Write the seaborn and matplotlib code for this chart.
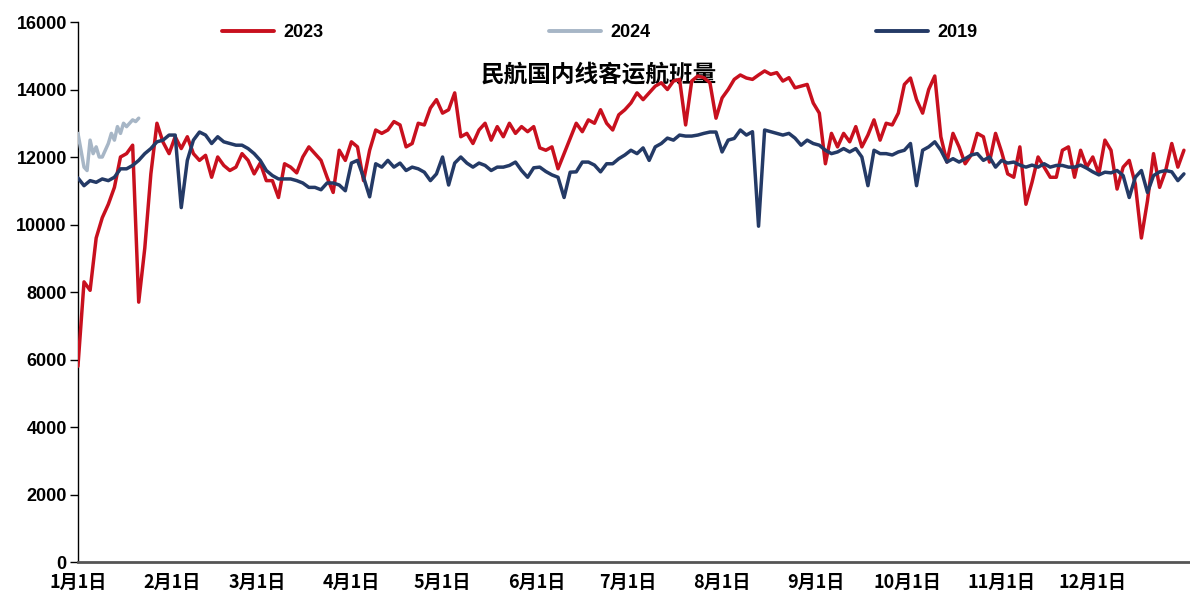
import numpy as np
import pandas as pd
import matplotlib
matplotlib.use('Agg')
import matplotlib.pyplot as plt
import seaborn as sns
from matplotlib.lines import Line2D

# values, one point every 2 days starting Jan 1
days = np.arange(0, 365, 2)

flights_2023 = [
    5800, 8300, 8050, 9600, 10200, 10600, 11100, 12000, 12100, 12350,
    7700, 9300, 11500, 13000, 12440, 12100, 12600, 12250, 12600, 12100,
    11900, 12050, 11400, 12000, 11750, 11600, 11700, 12100, 11900, 11500,
    11820, 11300, 11300, 10800, 11800, 11700, 11530, 12000, 12300, 12100,
    11900, 11400, 10950, 12200, 11900, 12450, 12300, 11300, 12200, 12800,
    12700, 12800, 13050, 12950, 12300, 12400, 13000, 12950, 13450, 13700,
    13300, 13400, 13900, 12600, 12700, 12400, 12800, 13000, 12500, 12900,
    12600, 13000, 12700, 12900, 12750, 12900, 12270, 12200, 12300, 11650,
    12100, 12550, 13000, 12750, 13100, 13000, 13400, 13000, 12800, 13250,
    13400, 13600, 13900, 13700, 13900, 14100, 14200, 14000, 14250, 14300,
    12950, 14250, 14400, 14350, 14200, 13150, 13750, 14000, 14300, 14430,
    14340, 14300, 14430, 14550, 14450, 14500, 14250, 14350, 14050, 14100,
    14150, 13600, 13300, 11800, 12700, 12300, 12700, 12450, 12900, 12300,
    12650, 13100, 12500, 13000, 12950, 13300, 14150, 14340, 13700, 13300,
    14000, 14400, 12600, 11850, 12700, 12300, 11800, 12060, 12700, 12600,
    11850, 12700, 12150, 11500, 11400, 12300, 10600, 11250, 12000, 11700,
    11400, 11400, 12200, 12300, 11400, 12200, 11700, 12000, 11500, 12500,
    12200, 11050, 11700, 11900, 11200, 9600, 10700, 12100, 11100, 11600,
    12400, 11700, 12200,
]

flights_2019 = [
    11380, 11150, 11300, 11250, 11350, 11300, 11400, 11650, 11650, 11750,
    11900, 12100, 12250, 12450, 12500, 12650, 12650, 10500, 11900, 12500,
    12740, 12650, 12400, 12600, 12450, 12400, 12350, 12350, 12250, 12100,
    11900, 11600, 11450, 11350, 11350, 11350, 11300, 11230, 11100, 11100,
    11030, 11230, 11230, 11170, 11000, 11820, 11900, 11400, 10820, 11800,
    11700, 11900, 11700, 11820, 11600, 11700, 11650, 11550, 11300, 11500,
    12000, 11170, 11820, 12000, 11820, 11700, 11820, 11750, 11600, 11700,
    11700, 11750, 11850, 11600, 11400, 11680, 11700, 11570, 11470, 11400,
    10800, 11550, 11560, 11850, 11850, 11760, 11560, 11800, 11800, 11950,
    12060, 12200, 12100, 12270, 11900, 12300, 12400, 12560, 12500, 12650,
    12620, 12620, 12650, 12700, 12740, 12740, 12150, 12500, 12550, 12800,
    12650, 12750, 9950, 12800, 12750, 12700, 12650, 12700, 12560, 12350,
    12500, 12400, 12350, 12200, 12100, 12150, 12250, 12150, 12250, 12000,
    11150, 12200, 12100, 12100, 12060, 12150, 12200, 12400, 11150, 12200,
    12300, 12450, 12200, 11850, 11950, 11850, 11950, 12060, 12100, 11900,
    12000, 11700, 11900, 11820, 11850, 11760, 11700, 11760, 11700, 11800,
    11700, 11750, 11750, 11700, 11700, 11760, 11670, 11560, 11470, 11550,
    11530, 11600, 11450, 10800, 11400, 11600, 10950, 11450, 11560, 11600,
    11560, 11300, 11500,
]

# 2024: daily values for the first three weeks
days_2024 = np.arange(0, 21)
flights_2024 = [12700, 12200, 11700, 11600, 12500, 12100, 12300, 12000, 12000, np.nan,
                12400, 12700, 12500, 12900, 12700, 13000, 12900, 13000, 13100, 13050, 13150]

month_days = [0, 31, 59, 90, 120, 151, 181, 212, 243, 273, 304, 334]
month_labels = ['1月1日', '2月1日', '3月1日', '4月1日', '5月1日', '6月1日',
                '7月1日', '8月1日', '9月1日', '10月1日', '11月1日', '12月1日']
y_ticks = [0, 2000, 4000, 6000, 8000, 10000, 12000, 14000, 16000]

c2023, c2024, c2019 = '#C8101E', '#A7B6C6', '#243A66'

sns.set_style('white')
plt.rcParams['font.family'] = ['Liberation Sans', 'Noto Sans CJK SC', 'DejaVu Sans']
plt.rcParams['text.color'] = 'black'
plt.rcParams['xtick.color'] = 'black'
plt.rcParams['ytick.color'] = 'black'

fig = plt.figure(figsize=(11.9, 5.98), dpi=100)
ax = fig.add_axes([0.0655, 0.0602, 0.9345, 0.903])

df23 = pd.DataFrame({'day': days, 'v': flights_2023})
df24 = pd.DataFrame({'day': days_2024, 'v': flights_2024})
df19 = pd.DataFrame({'day': days, 'v': flights_2019})

sns.lineplot(data=df23, x='day', y='v', color=c2023, linewidth=2.5, ax=ax, zorder=3)
sns.lineplot(data=df24, x='day', y='v', color=c2024, linewidth=2.5, ax=ax, zorder=3)
sns.lineplot(data=df19, x='day', y='v', color=c2019, linewidth=2.5, ax=ax, zorder=4)

ax.set_xlim(0, 366)
ax.set_ylim(0, 16000)
ax.set_xlabel('')
ax.set_ylabel('')

ax.set_yticks(y_ticks)
ax.set_yticklabels([str(t) for t in y_ticks], fontsize=13, fontweight='bold')
ax.set_xticks(month_days)
ax.set_xticklabels(month_labels, fontsize=13, fontweight='bold',
                   family=['Noto Sans CJK SC', 'DejaVu Sans'])
ax.tick_params(axis='y', direction='out', length=6, width=1, color='black', pad=2, left=True)
ax.tick_params(axis='x', length=0, pad=8)

for s in ['top', 'right']:
    ax.spines[s].set_visible(False)
ax.spines['left'].set_color('black')
ax.spines['left'].set_linewidth(1)
ax.spines['bottom'].set_color('#555555')
ax.spines['bottom'].set_linewidth(2)

ax.text(0.468, 0.902, '民航国内线客运航班量', transform=ax.transAxes, ha='center', va='center',
        fontsize=17, fontweight='bold', color='black', family=['Noto Sans CJK SC'], zorder=1)

handles = [Line2D([], [], color=c, linewidth=2.8) for c in (c2023, c2024, c2019)]
ax.legend(handles, ['2023', '2024', '2019'], ncol=3, loc='center', bbox_to_anchor=(0.469, 0.98),
          frameon=False, handlelength=2.9, columnspacing=12.5, handletextpad=0.5,
          prop={'family': 'Liberation Sans', 'weight': 'bold', 'size': 13})

fig.savefig('out.png', dpi=100)
